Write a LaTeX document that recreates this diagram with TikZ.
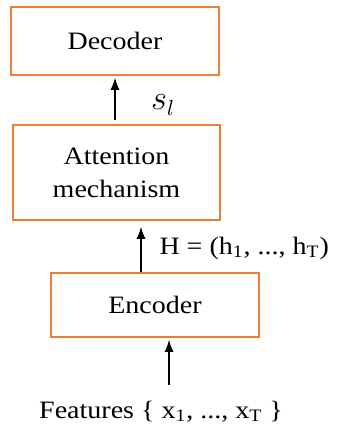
\documentclass[tikz,border=0pt]{standalone}
\usepackage{fontspec}
\setmainfont[FakeStretch=1.12]{Liberation Serif}
\usetikzlibrary{arrows.meta}
\definecolor{boxorange}{HTML}{ED7D31}
\begin{document}
\begin{tikzpicture}[x=0.5pt, y=-0.5pt,
  every node/.style={font=\fontsize{12.5}{16.5}\selectfont},
  block/.style={draw=boxorange, line width=0.8pt, inner sep=0pt, align=center},
  up/.style={-{Latex[length=6pt,width=4.5pt]}, line width=0.6pt}]
  \useasboundingbox (0,0) rectangle (338,428);
  \node[block, minimum width=104pt, minimum height=34pt] (dec) at (115,41) {Decoder};
  \node[block, minimum width=103.5pt, minimum height=47.5pt] (att) at (116.5,172.5) {Attention\\mechanism};
  \node[block, minimum width=104pt, minimum height=32pt] (enc) at (155,305) {Encoder};
  \node[anchor=base] (feat) at (161,418) {Features \{ x\textsubscript{1}, ..., x\textsubscript{T} \}};
  \coordinate (a1) at (115,120); \coordinate (a2) at (141,272); \coordinate (a3) at (169,385);
  \draw[up] (a1) -- ([yshift=-1pt]dec.south -| a1);
  \draw[up] (a2) -- ([yshift=-3pt]att.south -| a2);
  \draw[up] (a3) -- ([yshift=-1pt]enc.south -| a3);
  \node[anchor=west, font=\fontsize{16}{16}\selectfont] (sl) at (144,105) {$s_l$};
  \node[anchor=east] (hlab) at (336,248) {H = (h\textsubscript{1}, ..., h\textsubscript{T})};
\end{tikzpicture}
\end{document}
